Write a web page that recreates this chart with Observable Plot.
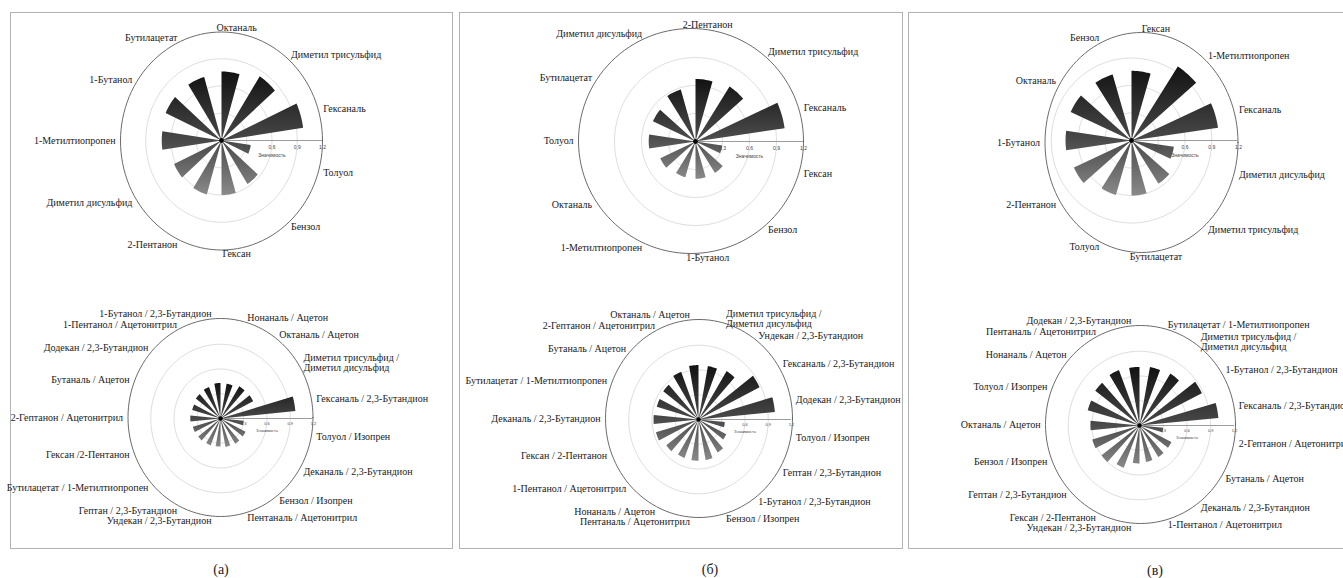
<!DOCTYPE html>
<html>
<head>
<meta charset="utf-8">
<script src="https://cdn.jsdelivr.net/npm/d3@7"></script>
<script src="https://cdn.jsdelivr.net/npm/@observablehq/plot@0.6"></script>
<style>
  html, body { margin: 0; padding: 0; background: #fff; }
  #page { position: relative; width: 1343px; height: 578px; overflow: hidden; font-family: "Liberation Serif", "DejaVu Serif", serif; }
  .panel { position: absolute; border: 1.5px solid #b2b2b2; box-sizing: border-box; }
  .caption { position: absolute; font-size: 14px; color: #222; transform: translate(-50%, -50%); }
  .layer { position: absolute; left: 0; top: 0; pointer-events: none; }
</style>
</head>
<body>
<div id="page">
  <svg width="0" height="0" style="position:absolute">
    <defs>
      <linearGradient id="barGrad" x1="0" y1="0" x2="0" y2="1">
        <stop offset="0%" stop-color="#121212"/>
        <stop offset="55%" stop-color="#474747"/>
        <stop offset="100%" stop-color="#8a8a8a"/>
      </linearGradient>
    </defs>
  </svg>
  <div class="panel" style="left:10px; top:12px; width:443px; height:537px"></div>
  <div class="panel" style="left:459px; top:12px; width:444px; height:537px"></div>
  <div class="panel" style="left:908px; top:12px; width:445px; height:537px"></div>
  <div class="caption" style="left:221px; top:570px">(а)</div>
  <div class="caption" style="left:710px; top:570px">(б)</div>
  <div class="caption" style="left:1155px; top:571px">(в)</div>
</div>
<script>
// Radial scale: rings, the outer rim and the "Значимость" axis
const RMAX = 1.2;
const ringRadii = [0.3, 0.6, 0.9];
const tickValues = [0.3, 0.6, 0.9, 1.2];
const tickLabels = ["0,3", "0,6", "0,9", "1,2"];
const axisTitle = "Значимость";

// Panel (а): single compounds
const topALabels = ["Октаналь", "Диметил трисульфид", "Гексаналь", "Толуол", "Бензол", "Гексан",
  "2-Пентанон", "Диметил дисульфид", "1-Метилтиопропен", "1-Бутанол", "Бутилацетат"];
const topAValues = [0.76, 0.84, 0.98, 0.35, 0.57, 0.60, 0.62, 0.62, 0.71, 0.73, 0.73];

// Panel (а): compound ratios
const bottomALabels = ["1-Бутанол / 2,3-Бутандион", "Нонаналь / Ацетон", "Октаналь / Ацетон",
  "Диметил трисульфид /\nДиметил дисульфид", "Гексаналь / 2,3-Бутандион", "Толуол / Изопрен",
  "Деканаль / 2,3-Бутандион", "Бензол / Изопрен", "Пентаналь / Ацетонитрил", "Ундекан / 2,3-Бутандион",
  "Гептан / 2,3-Бутандион", "Бутилацетат / 1-Метилтиопропен", "Гексан /2-Пентанон",
  "2-Гептанон / Ацетонитрил", "Бутаналь / Ацетон", "Додекан / 2,3-Бутандион", "1-Пентанол / Ацетонитрил"];
const bottomAValues = [0.43, 0.43, 0.46, 0.47, 0.97, 0.30, 0.36, 0.36, 0.35, 0.34, 0.35, 0.36, 0.37, 0.39, 0.38, 0.40, 0.41];

// Panel (б): single compounds
const topBLabels = ["2-Пентанон", "Диметил трисульфид", "Гексаналь", "Гексан", "Бензол", "1-Бутанол",
  "1-Метилтиопропен", "Октаналь", "Толуол", "Бутилацетат", "Диметил дисульфид"];
const topBValues = [0.67, 0.70, 1.00, 0.30, 0.40, 0.40, 0.40, 0.43, 0.52, 0.52, 0.58];

// Panel (б): compound ratios
const bottomBLabels = ["Октаналь / Ацетон", "Диметил трисульфид /\nДиметил дисульфид", "Ундекан / 2,3-Бутандион",
  "Гексаналь / 2,3-Бутандион", "Додекан / 2,3-Бутандион", "Толуол / Изопрен", "Гептан / 2,3-Бутандион",
  "1-Бутанол / 2,3-Бутандион", "Бензол / Изопрен", "Пентаналь / Ацетонитрил", "Нонаналь / Ацетон",
  "1-Пентанол / Ацетонитрил", "Гексан / 2-Пентанон", "Деканаль / 2,3-Бутандион",
  "Бутилацетат / 1-Метилтиопропен", "Бутаналь / Ацетон", "2-Гептанон / Ацетонитрил"];
const bottomBValues = [0.66, 0.66, 0.69, 0.88, 0.99, 0.34, 0.40, 0.47, 0.50, 0.50, 0.50, 0.52, 0.57, 0.58, 0.56, 0.57, 0.62];

// Panel (в): single compounds
const topCLabels = ["Гексан", "1-Метилтиопропен", "Гексаналь", "Диметил дисульфид", "Диметил трисульфид",
  "Бутилацетат", "Толуол", "2-Пентанон", "1-Бутанол", "Октаналь", "Бензол"];
const topCValues = [0.76, 0.96, 0.98, 0.48, 0.56, 0.60, 0.62, 0.71, 0.74, 0.75, 0.75];

// Panel (в): compound ratios
const bottomCLabels = ["Додекан / 2,3-Бутандион", "Бутилацетат / 1-Метилтиопропен",
  "Диметил трисульфид /\nДиметил дисульфид", "1-Бутанол / 2,3-Бутандион", "Гексаналь / 2,3-Бутандион",
  "2-Гептанон / Ацетонитрил", "Бутаналь / Ацетон", "Деканаль / 2,3-Бутандион", "1-Пентанол / Ацетонитрил",
  "Ундекан / 2,3-Бутандион", "Гексан / 2-Пентанон", "Гептан / 2,3-Бутандион", "Бензол / Изопрен",
  "Октаналь / Ацетон", "Толуол / Изопрен", "Нонаналь / Ацетон", "Пентаналь / Ацетонитрил"];
const bottomCValues = [0.71, 0.72, 0.74, 0.88, 1.00, 0.30, 0.45, 0.45, 0.45, 0.46, 0.55, 0.60, 0.62, 0.62, 0.68, 0.70, 0.72];

// Layout of the six roses.
// cx, cy, rx, ry: wedge origin and pixel length of the 1,2 radius;
// rim: centre and radii (px) of the outer circle, which also carries the names.
const roses = [
  {labels: topALabels, values: topAValues, cx: 221, cy: 140, rx: 101, ry: 109,
   rim: {cx: 221, cy: 140.5, rx: 101, ry: 109}, dir: 1, band: 0.2, tick: 5, dot: 2.4},
  {labels: bottomALabels, values: bottomAValues, cx: 220, cy: 418, rx: 93, ry: 99,
   rim: {cx: 220, cy: 417, rx: 92.5, ry: 99}, dir: -1, band: 0.05, tick: 4, dot: 2.2},
  {labels: topBLabels, values: topBValues, cx: 695, cy: 141, rx: 108, ry: 112,
   rim: {cx: 690.5, cy: 140.5, rx: 112.5, ry: 112.5}, dir: 1, band: 0.2, tick: 5, dot: 2.4},
  {labels: bottomBLabels, values: bottomBValues, cx: 698, cy: 419, rx: 93, ry: 99,
   rim: {cx: 698.5, cy: 418, rx: 93.5, ry: 99}, dir: -1, band: 0.05, tick: 4, dot: 2.2},
  {labels: topCLabels, values: topCValues, cx: 1131, cy: 140, rx: 107, ry: 110,
   rim: {cx: 1141, cy: 142, rx: 96.5, ry: 110}, dir: 1, band: 0.2, tick: 5, dot: 2.4},
  {labels: bottomCLabels, values: bottomCValues, cx: 1139, cy: 425, rx: 95, ry: 99,
   rim: {cx: 1140, cy: 424, rx: 95, ry: 99}, dir: -1, band: 0.05, tick: 4, dot: 2.2}
];

const W = 1343, H = 578;
const SERIF = "'Liberation Serif', 'DejaVu Serif', serif";
const SANS = "Arial, 'Liberation Sans', sans-serif";
const LABEL_SIZE = 10;
const LABEL_PAD = 5;
const rad = (deg) => deg * Math.PI / 180;

// Points of an ellipse given in pixel geometry, expressed in data units of the rose
function ellipsePoints(key, ox, oy, ax, ay) {
  return d3.range(0, 361, 3).map((a) => ({key, x: ox + ax * Math.cos(rad(a)), y: oy + ay * Math.sin(rad(a))}));
}

// One closed outline for all wedges: centre → arc → centre → next arc ...
function wedgeOutline(values, dir) {
  const n = values.length, step = 360 / n, width = step * 0.5;
  const pts = [];
  values.forEach((v, i) => {
    const a0 = 90 - step * i;
    const a1 = a0 - dir * width;
    pts.push({x: 0, y: 0});
    for (let k = 0; k <= 10; ++k) {
      const a = rad(a0 + (a1 - a0) * k / 10);
      pts.push({x: v * Math.cos(a), y: v * Math.sin(a)});
    }
  });
  return pts;
}

function rose(cfg) {
  const {labels, values, cx, cy, rx, ry, rim, dir, band, tick, dot} = cfg;
  const kx = rx / RMAX, ky = ry / RMAX;
  const n = labels.length, step = 360 / n, width = step * 0.5;

  // rim geometry in data units
  const ox = (rim.cx - cx) / kx, oy = (cy - rim.cy) / ky;
  const ax = rim.rx / kx, ay = rim.ry / ky;

  const rings = ringRadii.flatMap((r) => ellipsePoints(r, 0, 0, r, r));
  const outer = ellipsePoints("rim", ox, oy, ax, ay);

  const names = labels.map((t, i) => {
    const a = rad(90 - step * i - dir * width / 2);
    const c = Math.cos(a), s = Math.sin(a);
    return {
      t,
      x: ox + (ax + LABEL_PAD / kx) * c,
      y: oy + (ay + LABEL_PAD / ky) * s,
      anchor: Math.abs(c) < band ? "middle" : c > 0 ? "start" : "end"
    };
  });

  const ticks = tickValues.map((v, i) => ({x: v, y: 0, t: tickLabels[i]}));

  return Plot.plot({
    width: W,
    height: H,
    margin: 0,
    style: {background: "transparent", overflow: "visible", fontFamily: SERIF},
    x: {domain: [-cx / kx, (W - cx) / kx], range: [0, W], axis: null},
    y: {domain: [-(H - cy) / ky, cy / ky], range: [H, 0], axis: null},
    marks: [
      Plot.line(rings, {x: "x", y: "y", z: "key", stroke: "#dedede", strokeWidth: 1, curve: "linear-closed"}),
      Plot.line(outer, {x: "x", y: "y", stroke: "#5a5a5a", strokeWidth: 0.9, curve: "linear-closed"}),
      Plot.ruleY([{y: 0, x1: 0, x2: RMAX}], {y: "y", x1: "x1", x2: "x2", stroke: "#9c9c9c", strokeWidth: 1}),
      Plot.line(wedgeOutline(values, dir), {x: "x", y: "y", fill: "url(#barGrad)", stroke: "none", curve: "linear-closed"}),
      Plot.dot([{x: 0, y: 0}], {x: "x", y: "y", r: dot, fill: "#000", stroke: "none"}),
      Plot.text(ticks, {x: "x", y: "y", text: "t", dy: tick + 1.5, fontSize: tick, fontFamily: SANS, fill: "#444"}),
      Plot.text([{x: 0.6, y: 0, t: axisTitle}], {x: "x", y: "y", text: "t", dy: tick * 3, fontSize: tick, fontFamily: SANS, fill: "#444"}),
      ...["start", "middle", "end"].map((anchor) =>
        Plot.text(names.filter((d) => d.anchor === anchor), {
          x: "x", y: "y", text: "t", textAnchor: anchor, fontSize: LABEL_SIZE, fontFamily: SERIF,
          lineHeight: 1.0, fill: "#1a1a1a"
        }))
    ]
  });
}

const page = document.getElementById("page");
for (const cfg of roses) {
  const svg = rose(cfg);
  svg.classList.add("layer");
  page.appendChild(svg);
}
</script>
</body>
</html>
